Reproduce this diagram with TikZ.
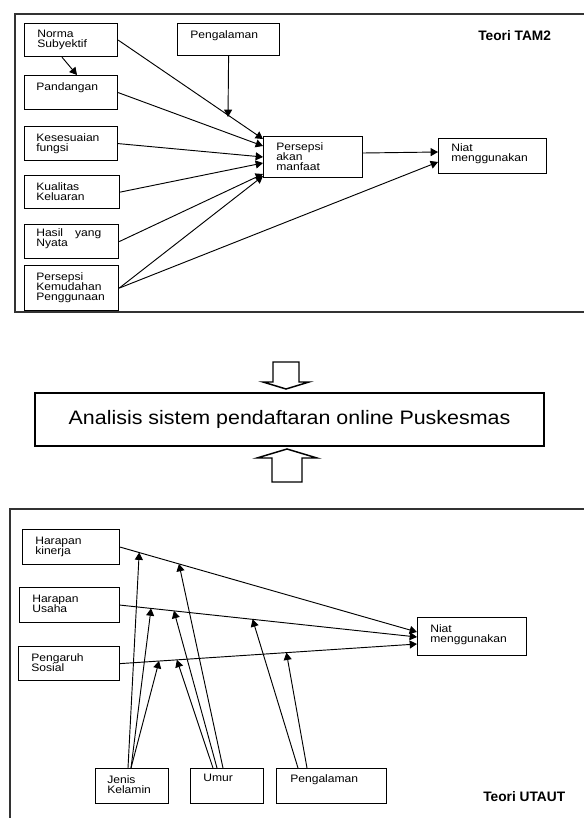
\documentclass[tikz,border=0pt]{standalone}
\usepackage{fontspec}
\setmainfont{Liberation Sans}
\newfontfamily\lebar[FakeStretch=1.12]{Liberation Sans}
\newfontfamily\lebarbesar[FakeStretch=1.1]{Liberation Sans}
\usetikzlibrary{arrows.meta}
\tikzset{
  kotak/.style={draw, line width=0.9pt, inner sep=0pt},
  ukuran/.style 2 args={minimum width=#1*0.75pt, minimum height=#2*0.75pt},
  teks/.style={anchor=north west, inner sep=0pt, align=left, font=\lebar\fontsize{8.1}{7.6}\selectfont},
  judul/.style={anchor=west, inner sep=0pt, font=\bfseries\fontsize{10.3}{12}\selectfont},
  panah/.style={line width=0.7pt, -{Triangle[length=5.5pt,width=6pt]}},
  bingkai/.style={line width=1pt, color=black!80},
  blok/.style={line width=1.1pt, fill=white},
}
\begin{document}
\begin{tikzpicture}[x=0.75pt,y=0.75pt,yscale=-1,xscale=1]
\useasboundingbox (0,0) rectangle (583,818);

%Shape: Frame TAM2
\draw [bingkai] (600,14) -- (15,14) -- (15,312) -- (600,312) ;
%Shape: Frame UTAUT
\draw [bingkai] (600,509) -- (10,509) -- (10,830) ;

%Shape: Rectangle [TAM2 boxes]
\node [kotak, ukuran={93}{33}, anchor=north west] (ns) at (24,23) {};
\node [kotak, ukuran={102}{32}, anchor=north west] (peng1) at (177,23) {};
\node [kotak, ukuran={93}{34}, anchor=north west] (pand) at (24,75) {};
\node [kotak, ukuran={93}{34}, anchor=north west] (kes) at (24,126) {};
\node [kotak, ukuran={95}{33}, anchor=north west] (kual) at (24,175) {};
\node [kotak, ukuran={94}{34}, anchor=north west] (hasil) at (24,224) {};
\node [kotak, ukuran={94}{45}, anchor=north west] (pkp) at (24,265) {};
\node [kotak, ukuran={99}{41}, anchor=north west] (pam) at (263,136) {};
\node [kotak, ukuran={108}{35}, anchor=north west] (niat1) at (438,138) {};

% Text Node
\node [teks] (tns) at (37,30) {Norma\\Subyektif};
\node [teks] (tpeng1) at (190,30) {Pengalaman};
\node [teks] (tpand) at (36,82) {Pandangan};
\node [teks] (tkes) at (36,133) {Kesesuaian\\fungsi};
\node [teks] (tkual) at (36,182) {Kualitas\\Keluaran};
\node [teks] (thasil) at (36,228) {Hasil\hspace{9pt}yang\\Nyata};
\node [teks] (tpkp) at (36,272) {Persepsi\\Kemudahan\\Penggunaan};
\node [teks] (tpam) at (276,142) {Persepsi\\akan\\manfaat};
\node [teks] (tniat1) at (451,143) {Niat\\menggunakan};
\node [judul] (tam) at (478,36) {Teori TAM2};

%Straight Lines [TAM2]
\coordinate (ujung) at (228,117);
\draw [panah] (62,0 |- ns.south) -- (77,0 |- pand.north) ;
\draw [panah] (ns.east) -- (pam.west |- 0,139) ;
\draw [panah] (peng1.south) -- (ujung) ;
\draw [panah] (pand.east) -- (pam.west |- 0,146) ;
\draw [panah] (kes.east) -- (pam.west |- 0,157) ;
\draw [panah] (kual.east) -- (pam.west |- 0,163) ;
\draw [panah] (hasil.east) -- (pam.west |- 0,174) ;
\draw [panah] (pkp.east) -- (pam.west |- 0,176) ;
\draw [panah] (pkp.east) -- (niat1.west |- 0,162) ;
\draw [panah] (pam.east |- 0,153) -- (niat1.west |- 0,152) ;

%Shape: Block Arrows
\draw [blok] (273,362) -- (299,362) -- (299,382) -- (309,382) -- (286,389) -- (263,382) -- (273,382) -- cycle ;
\draw [blok] (272,482) -- (302,482) -- (302,458) -- (317,458) -- (287,449) -- (257,458) -- (272,458) -- cycle ;

% Text Node
\node [kotak, ukuran={509}{53}, font=\lebarbesar\fontsize{14.6}{17}\selectfont] (analisis) at (289.5,419.5) {Analisis sistem pendaftaran online Puskesmas};

%Shape: Rectangle [UTAUT boxes]
\node [kotak, ukuran={97}{35}, anchor=north west] (hk) at (22,529) {};
\node [kotak, ukuran={100}{35}, anchor=north west] (hu) at (19,587) {};
\node [kotak, ukuran={101}{34}, anchor=north west] (ps) at (18,646) {};
\node [kotak, ukuran={73}{35}, anchor=north west] (jk) at (95,768) {};
\node [kotak, ukuran={73}{35}, anchor=north west] (um) at (190,768) {};
\node [kotak, ukuran={110}{35}, anchor=north west] (pg) at (276,768) {};
\node [kotak, ukuran={109}{38}, anchor=north west] (nb) at (417,617) {};

% Text Node
\node [teks] (thk) at (35,537) {Harapan\\kinerja};
\node [teks] (thu) at (32,595) {Harapan\\Usaha};
\node [teks] (tps) at (31,653) {Pengaruh\\Sosial};
\node [teks] (tjk) at (107,775) {Jenis\\Kelamin};
\node [teks] (tum) at (203,774) {Umur};
\node [teks] (tpg) at (290,774) {Pengalaman};
\node [teks] (tnb) at (430,624) {Niat\\menggunakan};
\node [judul] (utaut) at (483,797) {Teori UTAUT};

%Straight Lines [UTAUT]
\draw [panah] (hk.east) -- coordinate[pos=0.064] (hk1) coordinate[pos=0.198] (hk2) (nb.west |- 0,632) ;
\draw [panah] (hu.east) -- coordinate[pos=0.104] (hu1) coordinate[pos=0.181] (hu2) coordinate[pos=0.446] (hu3) (nb.west |- 0,637) ;
\draw [panah] (ps.east) -- coordinate[pos=0.131] (ps1) coordinate[pos=0.191] (ps2) coordinate[pos=0.560] (ps3) (nb.west |- 0,644) ;
\draw [panah] (128,0 |- jk.north) -- (hk1) ;
\draw [panah] (131,0 |- jk.north) -- (hu1) ;
\draw [panah] (131,0 |- jk.north) -- (ps1) ;
\draw [panah] (223,0 |- um.north) -- (hk2) ;
\draw [panah] (217,0 |- um.north) -- (hu2) ;
\draw [panah] (213,0 |- um.north) -- (ps2) ;
\draw [panah] (298,0 |- pg.north) -- (hu3) ;
\draw [panah] (307,0 |- pg.north) -- (ps3) ;

\end{tikzpicture}
\end{document}
